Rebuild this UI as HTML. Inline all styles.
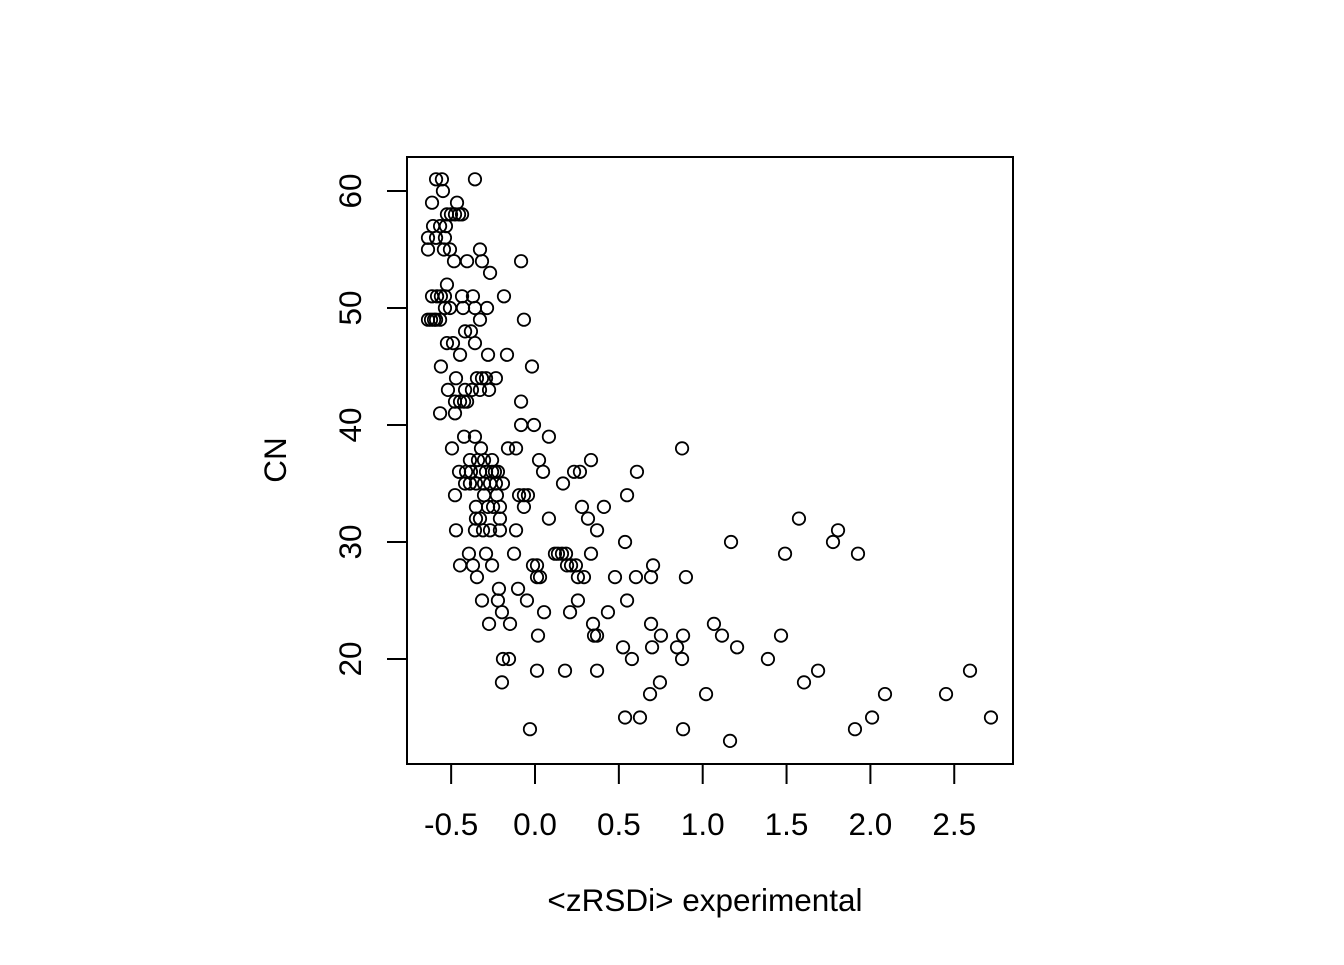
<!DOCTYPE html>
<html><head><meta charset="utf-8"><style>body{margin:0;background:#fff}svg text{font-family:"Liberation Sans",sans-serif;font-size:31.5px;fill:#000}</style></head>
<body>
<svg id="chart" width="1344" height="960" xmlns="http://www.w3.org/2000/svg">
<rect x="407" y="157" width="606" height="607" fill="none" stroke="#000" stroke-width="2"/>
<g id="xaxis"></g>
<g id="yaxis"></g>
<g id="pts"></g>
<text x="705" y="911" text-anchor="middle">&lt;zRSDi&gt; experimental</text>
<text x="286" y="460" text-anchor="middle" transform="rotate(-90 286 460)">CN</text>
</svg>
<script>
const xTicks=[-0.5,0,0.5,1,1.5,2,2.5];
const xTickLabels=["-0.5","0.0","0.5","1.0","1.5","2.0","2.5"];
const yTicks=[20,30,40,50,60];
const xVals=[-0.590,-0.555,-0.358,-0.549,-0.614,-0.465,-0.525,-0.501,-0.477,-0.453,-0.435,-0.608,-0.566,-0.531,-0.638,-0.590,-0.537,-0.638,-0.543,-0.507,-0.328,-0.483,-0.405,-0.316,-0.083,-0.268,-0.525,-0.614,-0.584,-0.561,-0.537,-0.435,-0.370,-0.185,-0.537,-0.507,-0.429,-0.358,-0.286,-0.638,-0.620,-0.602,-0.590,-0.566,-0.328,-0.066,-0.417,-0.382,-0.525,-0.489,-0.358,-0.447,-0.280,-0.167,-0.561,-0.018,-0.471,-0.346,-0.316,-0.292,-0.233,-0.519,-0.417,-0.376,-0.328,-0.274,-0.477,-0.447,-0.423,-0.405,-0.083,-0.566,-0.477,-0.083,-0.006,-0.423,-0.358,0.083,-0.495,-0.322,-0.161,-0.113,0.877,-0.388,-0.340,-0.304,-0.256,0.024,0.334,-0.453,-0.411,-0.382,-0.328,-0.292,-0.256,-0.239,-0.221,0.048,0.233,0.268,0.608,-0.417,-0.388,-0.352,-0.304,-0.268,-0.233,-0.191,0.167,-0.477,-0.304,-0.227,-0.095,-0.066,-0.042,0.549,-0.352,-0.280,-0.250,-0.209,-0.066,0.280,0.411,-0.352,-0.328,-0.209,0.083,0.316,1.574,-0.471,-0.358,-0.310,-0.268,-0.209,-0.113,0.370,1.807,0.537,1.169,1.777,-0.394,-0.292,-0.125,0.119,0.137,0.161,0.185,0.334,1.491,1.926,-0.447,-0.370,-0.256,-0.012,0.012,0.191,0.215,0.244,0.704,-0.346,0.012,0.030,0.256,0.292,0.477,0.602,0.692,0.900,-0.215,-0.101,-0.316,-0.221,-0.048,0.256,0.549,-0.197,0.054,0.209,0.435,-0.274,-0.149,0.346,0.692,1.067,0.018,0.352,0.370,0.751,0.883,1.115,1.467,0.525,0.698,0.847,1.205,-0.191,-0.155,0.578,0.877,1.389,0.012,0.179,0.370,1.688,2.594,-0.197,0.745,1.604,0.686,1.020,2.087,2.451,0.537,0.626,2.010,2.719,-0.030,0.883,1.908,1.163];
const yVals=[61,61,61,60,59,59,58,58,58,58,58,57,57,57,56,56,56,55,55,55,55,54,54,54,54,53,52,51,51,51,51,51,51,51,50,50,50,50,50,49,49,49,49,49,49,49,48,48,47,47,47,46,46,46,45,45,44,44,44,44,44,43,43,43,43,43,42,42,42,42,42,41,41,40,40,39,39,39,38,38,38,38,38,37,37,37,37,37,37,36,36,36,36,36,36,36,36,36,36,36,36,35,35,35,35,35,35,35,35,34,34,34,34,34,34,34,33,33,33,33,33,33,33,32,32,32,32,32,32,31,31,31,31,31,31,31,31,30,30,30,29,29,29,29,29,29,29,29,29,29,28,28,28,28,28,28,28,28,28,27,27,27,27,27,27,27,27,27,26,26,25,25,25,25,25,24,24,24,24,23,23,23,23,23,22,22,22,22,22,22,22,21,21,21,21,20,20,20,20,20,19,19,19,19,19,18,18,18,17,17,17,17,15,15,15,15,14,14,14,13];
const NS="http://www.w3.org/2000/svg";
function sx(v){return 535+v*167.7;}
function sy(v){return 659-(v-20)*11.7;}
const xa=document.getElementById('xaxis'),ya=document.getElementById('yaxis'),pg=document.getElementById('pts');
function mk(t,a){const e=document.createElementNS(NS,t);for(const k in a)e.setAttribute(k,a[k]);return e;}
xTicks.forEach((v,i)=>{
  const l=mk('line',{x1:sx(v),x2:sx(v),y1:764,y2:784,stroke:'#000','stroke-width':2});
  
  
  xa.appendChild(l);
  const t=mk('text',{x:sx(v),y:835,'text-anchor':'middle'});t.textContent=xTickLabels[i];
  
  
  xa.appendChild(t);
});
yTicks.forEach(v=>{
  const l=mk('line',{x1:387,x2:407,y1:sy(v),y2:sy(v),stroke:'#000','stroke-width':2});
  
  
  ya.appendChild(l);
  const t=mk('text',{x:361,y:sy(v),'text-anchor':'middle',transform:`rotate(-90 361 ${sy(v)})`});t.textContent=v;
  
  
  ya.appendChild(t);
});
xVals.forEach((v,i)=>{
  const c=mk('circle',{cx:sx(v),cy:sy(yVals[i]),r:6.2,fill:'none',stroke:'#000','stroke-width':1.8});
  
  
  pg.appendChild(c);
});
</script>
</body></html>
